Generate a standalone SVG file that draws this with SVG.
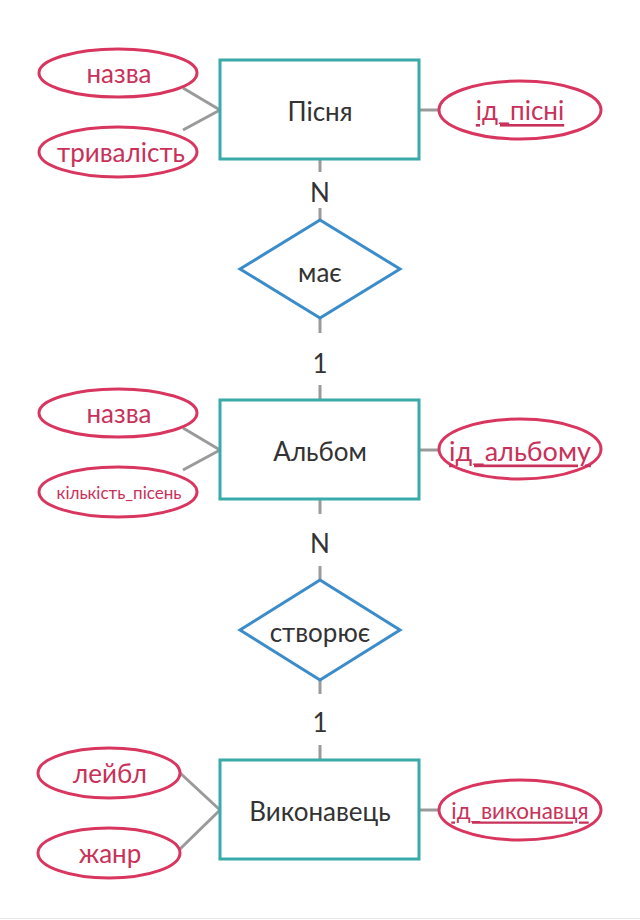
<svg xmlns="http://www.w3.org/2000/svg" width="640" height="920" viewBox="0 0 640 920">
<style>
.ent{fill:#fff;stroke:#3aa9a9;stroke-width:3}
.rel{fill:#fff;stroke:#3b8ccb;stroke-width:3}
.att{fill:#fff;stroke:#d9365f;stroke-width:3}
.con{stroke:#9a9a9a;stroke-width:3;fill:none}
.t{font-family:Lato,"Open Sans","Liberation Sans",sans-serif;text-anchor:middle;dominant-baseline:central}
.te{font-size:26px;fill:#333}
.ta{font-size:26px;fill:#c8325a}
.tk{text-decoration:underline}
</style>
<rect width="640" height="920" fill="#fff"/>
<line x1="0" y1="918.5" x2="640" y2="918.5" stroke="#e6e6e6" stroke-width="1"/>
<g id="connectors">
<line class="con" x1="183" y1="88" x2="220" y2="110"/>
<line class="con" x1="183" y1="130" x2="220" y2="110"/>
<line class="con" x1="419" y1="110" x2="439" y2="110"/>
<line class="con" x1="320" y1="159" x2="320" y2="172"/>
<line class="con" x1="320" y1="208" x2="320" y2="220"/>
<line class="con" x1="320" y1="318" x2="320" y2="333"/>
<line class="con" x1="320" y1="385" x2="320" y2="400"/>
<line class="con" x1="183" y1="428" x2="220" y2="450"/>
<line class="con" x1="183" y1="470" x2="220" y2="450"/>
<line class="con" x1="419" y1="450" x2="439" y2="450"/>
<line class="con" x1="320" y1="499" x2="320" y2="514"/>
<line class="con" x1="320" y1="566" x2="320" y2="580"/>
<line class="con" x1="320" y1="680" x2="320" y2="694"/>
<line class="con" x1="320" y1="745" x2="320" y2="760"/>
<line class="con" x1="179" y1="772" x2="220" y2="810"/>
<line class="con" x1="179" y1="850" x2="220" y2="810"/>
<line class="con" x1="419" y1="810" x2="439" y2="810"/>
<text class="t te" x="320" y="192">N</text>
<text class="t te" x="320" y="363">1</text>
<text class="t te" x="320" y="543">N</text>
<text class="t te" x="320" y="722">1</text>
</g>
<g id="pisnia"><rect class="ent" x="220" y="60" width="199" height="99"/><text class="t te" x="320" y="111">Пісня</text></g>
<g id="pisnia_nazva"><ellipse class="att" cx="118" cy="73" rx="79" ry="24"/><text class="t ta" x="119" y="73">назва</text></g>
<g id="pisnia_tryvalist"><ellipse class="att" cx="118" cy="152" rx="79" ry="25"/><text class="t ta" x="121" y="152">тривалість</text></g>
<g id="pisnia_id"><ellipse class="att" cx="520" cy="110" rx="81" ry="29"/><text class="t ta tk" x="520" y="110">ід_пісні</text></g>
<g id="maie"><polygon class="rel" points="320,220 400,269 320,318 240,269"/><text class="t te" x="320" y="272">має</text></g>
<g id="albom"><rect class="ent" x="220" y="400" width="199" height="99"/><text class="t te" x="320" y="451">Альбом</text></g>
<g id="albom_nazva"><ellipse class="att" cx="118" cy="413" rx="79" ry="24"/><text class="t ta" x="119" y="413">назва</text></g>
<g id="albom_kilkist"><ellipse class="att" cx="118" cy="492" rx="79" ry="25"/><text class="t ta" x="119" y="492" style="font-size:17px">кількість_пісень</text></g>
<g id="albom_id"><ellipse class="att" cx="520" cy="449" rx="81" ry="30"/><text class="t ta tk" x="520" y="450" style="font-size:27px">ід_альбому</text></g>
<g id="stvoriuie"><polygon class="rel" points="320,580 400,630 320,680 240,630"/><text class="t te" x="320" y="632">створює</text></g>
<g id="vykonavets"><rect class="ent" x="220" y="760" width="199" height="99"/><text class="t te" x="320" y="811">Виконавець</text></g>
<g id="vyk_leibl"><ellipse class="att" cx="109" cy="773" rx="71" ry="25"/><text class="t ta" x="110" y="773">лейбл</text></g>
<g id="vyk_zhanr"><ellipse class="att" cx="109" cy="853" rx="71" ry="25"/><text class="t ta" x="110" y="853">жанр</text></g>
<g id="vyk_id"><ellipse class="att" cx="520" cy="810" rx="81" ry="30"/><text class="t ta tk" x="520" y="810" style="font-size:22.5px">ід_виконавця</text></g>
</svg>
